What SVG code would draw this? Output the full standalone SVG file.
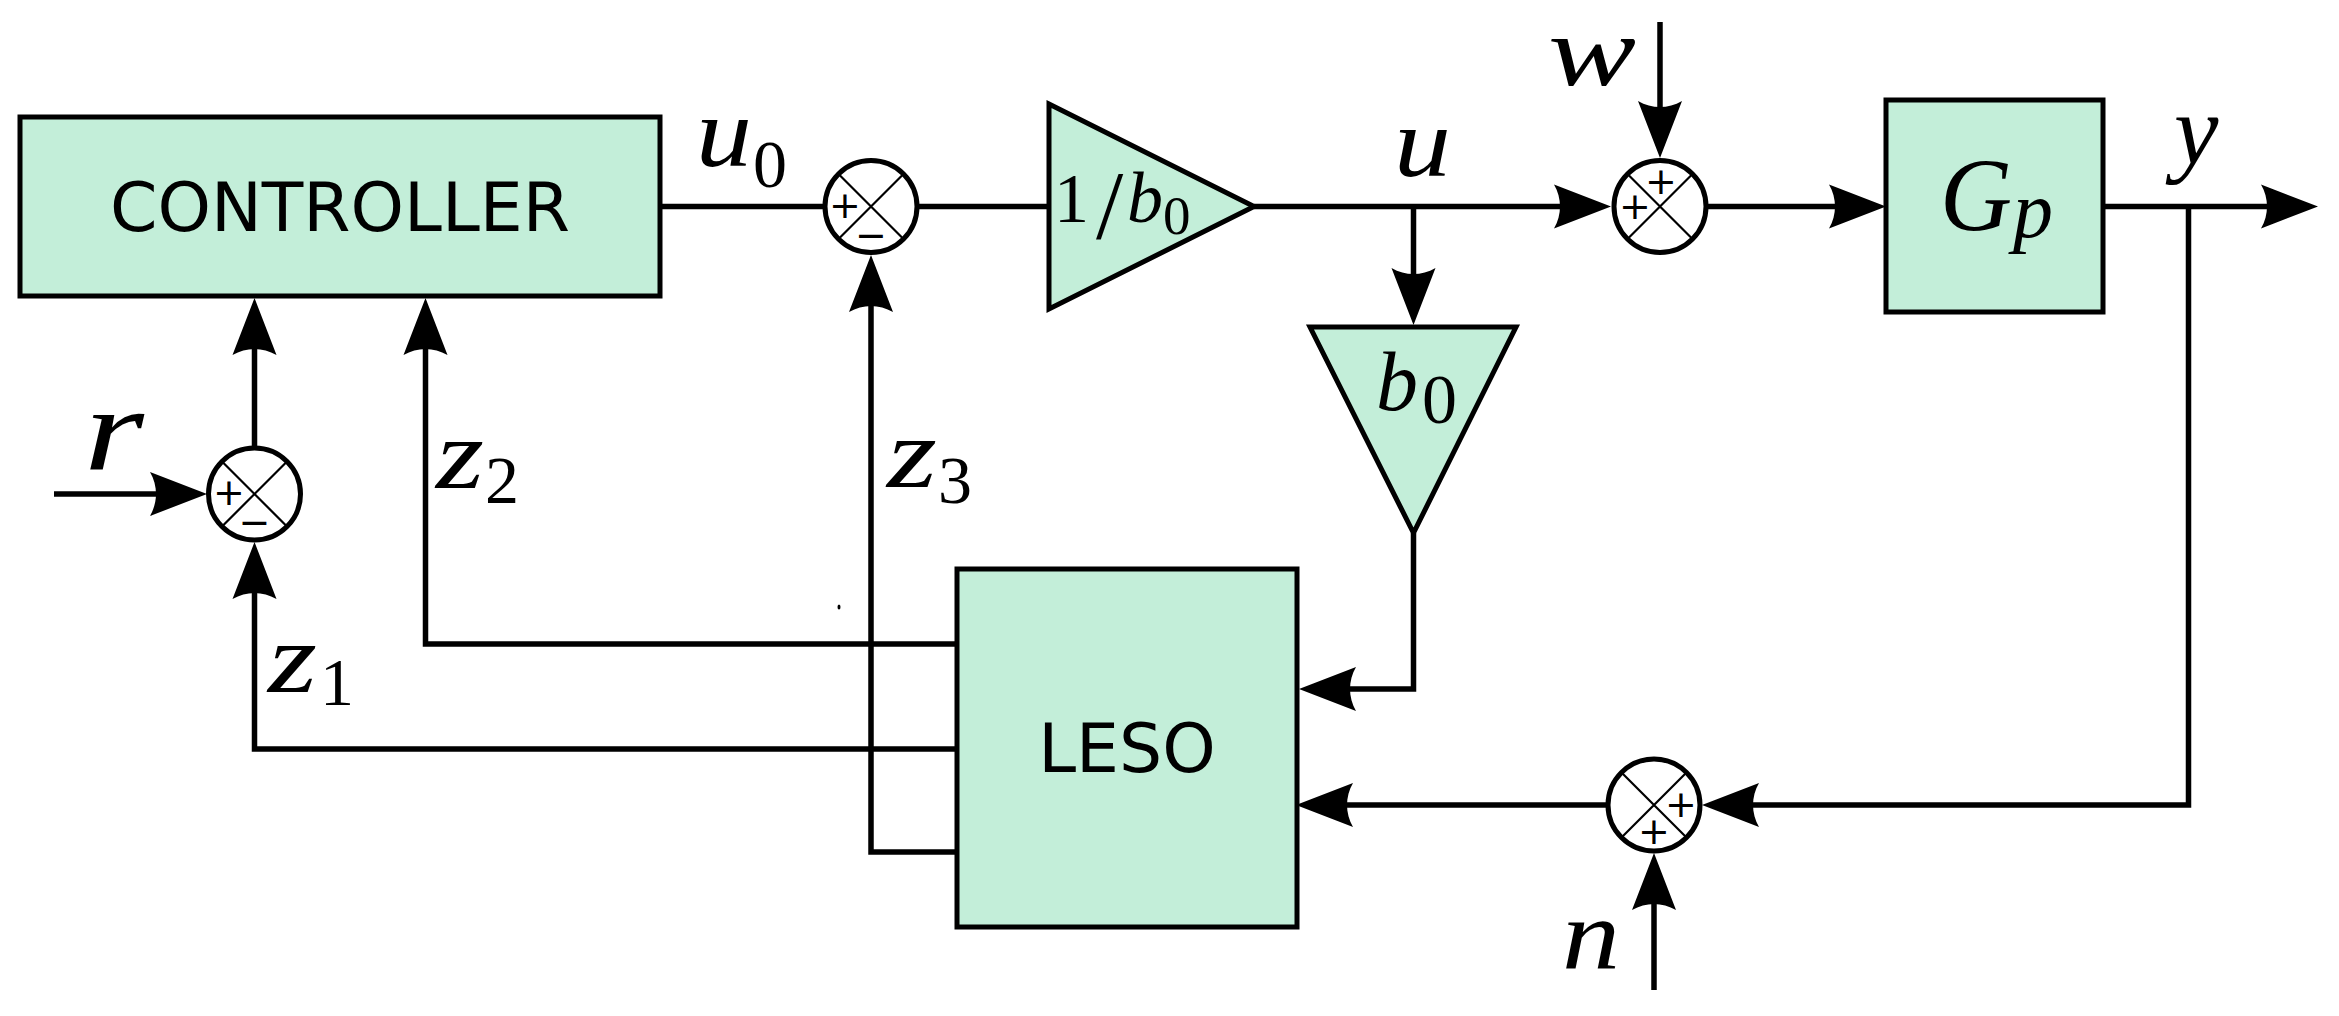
<svg xmlns="http://www.w3.org/2000/svg" width="2339" height="1016" viewBox="0 0 2339 1016">
<style>
.blk{fill:#c3eed9;stroke:#000;stroke-width:5}
.sum{fill:#fff;stroke:#000;stroke-width:5}
.x{stroke:#000;stroke-width:2.2}
.w{fill:none;stroke:#000;stroke-width:5.5;stroke-linejoin:miter}
.a{marker-end:url(#ah)}
.lbl{font-family:"DejaVu Sans",sans-serif;font-size:68px;fill:#000;text-anchor:middle}
.sg{font-family:"DejaVu Sans",sans-serif;font-size:38px;fill:#000;text-anchor:middle}
.m{font-family:"Liberation Serif",serif;font-style:italic;font-size:100px;fill:#000}
.d{font-family:"Liberation Serif",serif;font-size:68px;fill:#000}
</style>
<defs>
<marker id="ah" markerUnits="userSpaceOnUse" viewBox="0 -24 58 48" markerWidth="58" markerHeight="48" refX="38" refY="0" orient="auto">
<path d="M57,0 L0,-22 C8,-8 8,8 0,22 Z" fill="#000"/>
</marker>
</defs>
<rect width="2339" height="1016" fill="#fff"/>
<g id="connectors">
<path class="w a" d="M54,494 H188"/>
<path class="w a" d="M254.5,448 V317"/>
<path class="w a" d="M957,749 H254.5 V561"/>
<path class="w a" d="M957,644 H425.5 V317"/>
<path class="w a" d="M957,852 H871 V274"/>
<path class="w" d="M660,206.5 H825.5"/>
<path class="w" d="M916.5,206.5 H1049"/>
<path class="w a" d="M1254,206.5 H1592"/>
<path class="w a" d="M1413.5,206.5 V306"/>
<path class="w a" d="M1413.5,533 V689 H1318"/>
<path class="w a" d="M1660,22 V139"/>
<path class="w a" d="M1708,206.5 H1867"/>
<path class="w a" d="M2103,206.5 H2299"/>
<path class="w a" d="M2188.5,206.5 V805 H1721"/>
<path class="w a" d="M1608,805 H1315"/>
<path class="w a" d="M1654,990 V872"/>
</g>
<g id="controller">
<rect class="blk" x="20" y="117" width="640" height="179"/>
<text class="lbl" x="340" y="231">CONTROLLER</text>
</g>
<g id="sum1">
<circle class="sum" cx="254.5" cy="494" r="46"/>
<path class="x" d="M223,462.5 L286,525.5 M286,462.5 L223,525.5"/>
<text class="sg" x="229" y="505">+</text>
<text class="sg" x="254.5" y="535">−</text>
</g>
<g id="sum2">
<circle class="sum" cx="871" cy="206.5" r="46"/>
<path class="x" d="M839.5,175 L902.5,238 M902.5,175 L839.5,238"/>
<text class="sg" x="845" y="218">+</text>
<text class="sg" x="871" y="248">−</text>
</g>
<g id="gain-inv">
<path class="blk" d="M1049,104 L1254,206.5 L1049,309 Z"/>
<text class="d" x="1054" y="222" style="font-size:70px">1</text>
<text class="d" x="1096" y="238" style="font-size:98px">/</text>
<text class="m" x="1127" y="222" style="font-size:72px">b</text>
<text class="d" x="1163" y="234" style="font-size:55px">0</text>
</g>
<g id="gain">
<path class="blk" d="M1310,327 L1516,327 L1413.5,533 Z"/>
<text class="m" x="1376" y="410" style="font-size:85px" textLength="42" lengthAdjust="spacingAndGlyphs">b</text>
<text class="d" x="1422" y="423" style="font-size:70px">0</text>
</g>
<g id="sum3">
<circle class="sum" cx="1660" cy="206.5" r="46"/>
<path class="x" d="M1628.5,175 L1691.5,238 M1691.5,175 L1628.5,238"/>
<text class="sg" x="1661" y="193.5">+</text>
<text class="sg" x="1635" y="218.5">+</text>
</g>
<g id="plant">
<rect class="blk" x="1886" y="100" width="217" height="212"/>
<text class="m" x="1940" y="230" style="font-size:104px" textLength="72" lengthAdjust="spacingAndGlyphs">G</text>
<text class="m" x="2013" y="237" style="font-size:80px">p</text>
</g>
<g id="sum4">
<circle class="sum" cx="1654" cy="805" r="46"/>
<path class="x" d="M1622.5,773.5 L1685.5,836.5 M1685.5,773.5 L1622.5,836.5"/>
<text class="sg" x="1681" y="817">+</text>
<text class="sg" x="1654" y="844">+</text>
</g>
<g id="leso">
<rect class="blk" x="957" y="569" width="340" height="358"/>
<text class="lbl" x="1127" y="772">LESO</text>
</g>
<g id="labels">
<text class="m" x="696" y="166" textLength="56" lengthAdjust="spacingAndGlyphs">u</text><text class="d" x="753" y="187">0</text>
<text class="m" x="1394" y="176" textLength="57" lengthAdjust="spacingAndGlyphs">u</text>
<text class="m" x="1548" y="85" textLength="88" lengthAdjust="spacingAndGlyphs">w</text>
<text class="m" x="2174" y="164">y</text>
<text class="m" x="84" y="470" style="font-size:118px" textLength="60" lengthAdjust="spacingAndGlyphs">r</text>
<text class="m" x="436" y="488" textLength="48" lengthAdjust="spacingAndGlyphs">z</text><text class="d" x="485" y="503">2</text>
<text class="m" x="887" y="487" textLength="50" lengthAdjust="spacingAndGlyphs">z</text><text class="d" x="938" y="503">3</text>
<text class="m" x="268" y="692" textLength="49" lengthAdjust="spacingAndGlyphs">z</text><text class="d" x="320" y="705">1</text>
<text class="m" x="1562" y="968" textLength="58" lengthAdjust="spacingAndGlyphs">n</text>
</g>
<ellipse cx="839" cy="607" rx="1.5" ry="2.5" fill="#000"/>
</svg>
